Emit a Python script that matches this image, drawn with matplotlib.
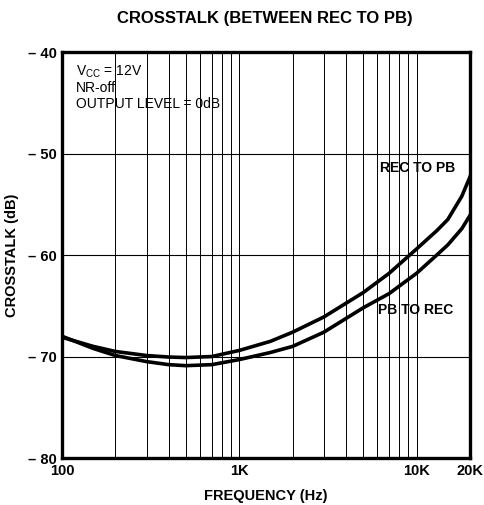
import matplotlib.pyplot as plt
from matplotlib.ticker import FixedLocator, NullFormatter

plt.rcParams['font.family'] = ['Liberation Sans', 'DejaVu Sans']

# frequencies (Hz)
freq = [100, 150, 200, 300, 400, 500, 700, 1000, 1500, 2000, 3000, 5000, 7000,
        10000, 13000, 15000, 18000, 20000]
# REC TO PB crosstalk (dB)
rec_to_pb = [-68.1, -69.0, -69.5, -69.9, -70.05, -70.1, -70.0, -69.4, -68.5, -67.6,
             -66.1, -63.7, -61.8, -59.4, -57.6, -56.5, -54.2, -52.3]
# PB TO REC crosstalk (dB)
pb_to_rec = [-68.0, -69.2, -69.9, -70.5, -70.8, -70.9, -70.8, -70.3, -69.6, -69.0,
             -67.6, -65.2, -63.8, -61.8, -60.0, -59.0, -57.4, -56.1]

x_ticks = [100, 1000, 10000, 20000]
x_labels = ['100', '1K', '10K', '20K']
y_ticks = [-80, -70, -60, -50, -40]
y_labels = ['– 80', '– 70', '– 60', '– 50', '– 40']

fig = plt.figure(figsize=(4.84, 5.05), dpi=100)
ax = fig.add_axes([0.128, 0.093, 0.843, 0.804])

# grid lines at every minor decade step
for f in [m * d for d in (100, 1000, 10000) for m in range(1, 10)]:
    if 100 < f < 20000:
        ax.axvline(f, color='black', lw=0.7, zorder=1)
for y in (-50, -60, -70):
    ax.axhline(y, color='black', lw=0.8, zorder=1)

ax.plot(freq, rec_to_pb, color='black', lw=2.6, zorder=3)
ax.plot(freq, pb_to_rec, color='black', lw=2.6, zorder=3)

ax.set_xscale('log')
ax.set_xlim(100, 20000)
ax.set_ylim(-80, -40)
ax.xaxis.set_major_locator(FixedLocator(x_ticks))
ax.xaxis.set_minor_locator(FixedLocator([]))
ax.xaxis.set_minor_formatter(NullFormatter())
ax.set_xticks(x_ticks)
ax.set_xticklabels(x_labels)
ax.set_yticks(y_ticks)
ax.set_yticklabels(y_labels)
ax.tick_params(length=0, labelsize=10.5, pad=4)
for lab in ax.get_xticklabels() + ax.get_yticklabels():
    lab.set_fontweight('bold')

for s in ax.spines.values():
    s.set_linewidth(2.4)

ax.set_xlabel('FREQUENCY (Hz)', fontsize=10.5, fontweight='bold', labelpad=8)
ax.set_ylabel('CROSSTALK (dB)', fontsize=10.5, fontweight='bold', labelpad=6)
fig.text(0.548, 0.963, 'CROSSTALK (BETWEEN REC TO PB)', ha='center', va='center',
         fontsize=12, fontweight='bold')

ax.text(0.035, 0.951, r'V$_{\mathregular{CC}}$ = 12V', transform=ax.transAxes,
        fontsize=10, va='center')
ax.text(0.035, 0.912, 'NR-off', transform=ax.transAxes, fontsize=10, va='center')
ax.text(0.035, 0.873, 'OUTPUT LEVEL = 0dB', transform=ax.transAxes, fontsize=10,
        va='center')
ax.text(0.78, 0.715, 'REC TO PB', transform=ax.transAxes, fontsize=10, va='center',
        fontweight='bold')
ax.text(0.775, 0.365, 'PB TO REC', transform=ax.transAxes, fontsize=10, va='center',
        fontweight='bold')

fig.savefig('out.png', dpi=100)
